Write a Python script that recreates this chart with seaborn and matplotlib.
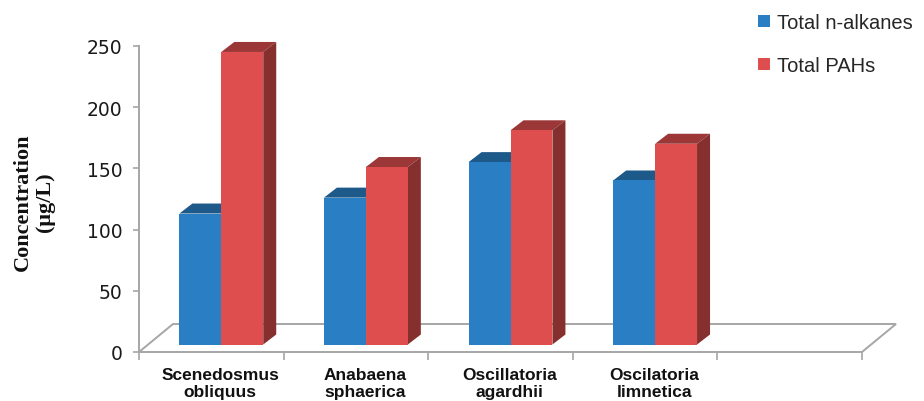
import numpy as np
import pandas as pd
import matplotlib
matplotlib.use("Agg")
import matplotlib.pyplot as plt
from matplotlib.patches import Polygon, Patch
from matplotlib.transforms import ScaledTranslation
import seaborn as sns

# ---- data -------------------------------------------------------------
species = ["Scenedosmus\nobliquus", "Anabaena\nsphaerica",
           "Oscillatoria\nagardhii", "Oscilatoria\nlimnetica"]
series = ["Total n-alkanes", "Total PAHs"]
alkanes = [107, 120, 149, 134]
pahs = [239, 145, 175, 164]
y_ticks = [0, 50, 100, 150, 200, 250]

df = pd.DataFrame({
    "species": species * 2,
    "series": [series[0]] * len(species) + [series[1]] * len(species),
    "conc": alkanes + pahs,
})

# ---- style ------------------------------------------------------------
sns.set_theme(style="white")
plt.rcParams["font.family"] = ["Liberation Sans", "DejaVu Sans"]

BLUE = "#2a7fc4"
RED = "#df4e4f"
GRID = "#a6a6a6"

W, H, DPI = 924, 402, 100
fig = plt.figure(figsize=(W / DPI, H / DPI), dpi=DPI)
ax_left, ax_right, ax_bottom, ax_top = 139, 862, 353, 47
ax = fig.add_axes([ax_left / W, (H - ax_bottom) / H,
                   (ax_right - ax_left) / W, (ax_bottom - ax_top) / H])

n_slots = 5  # four species plus one empty slot on the right
px_x = (ax_right - ax_left) / n_slots      # pixels per category
px_y = (ax_bottom - ax_top) / 250.0        # pixels per µg/L

sns.barplot(data=df, x="species", y="conc", hue="series",
            order=species, hue_order=series, palette=[BLUE, RED],
            width=0.58, saturation=1, legend=False, ax=ax)

ax.set_xlim(-0.5, n_slots - 0.5)
ax.set_ylim(0, 250)

# ---- 3-D floor --------------------------------------------------------
fdx, fdy = 34 / px_x, 28 / px_y
x_a, x_b = -0.5, n_slots - 0.5
floor = Polygon([(x_a, 0), (x_b, 0), (x_b + fdx, fdy), (x_a + fdx, fdy)],
                closed=True, facecolor="white", edgecolor=GRID, lw=1.4,
                zorder=1, clip_on=False)
ax.add_patch(floor)

# ---- 3-D bars: move columns to mid-depth and add top / side faces ------
shift = ScaledTranslation(10 / DPI, 7.5 / DPI, fig.dpi_scale_trans)
bar_tr = ax.transData + shift
ddx, ddy = 13 / px_x, 10 / px_y


def shade(color, k):
    r, g, b = matplotlib.colors.to_rgb(color)
    return (r * k, g * k, b * k)


bars = sorted([p for p in ax.patches if p is not floor], key=lambda p: p.get_x())
for i, p in enumerate(bars):
    x0, w, h = p.get_x(), p.get_width(), p.get_height()
    fc = p.get_facecolor()
    p.set_transform(bar_tr)
    p.set_edgecolor("none")
    p.set_clip_on(False)
    p.set_zorder(3 + 3 * i + 2)
    top = Polygon([(x0, h), (x0 + w, h), (x0 + w + ddx, h + ddy), (x0 + ddx, h + ddy)],
                  closed=True, facecolor=shade(fc, 0.7), edgecolor="none",
                  transform=bar_tr, zorder=3 + 3 * i, clip_on=False)
    side = Polygon([(x0 + w, 0), (x0 + w + ddx, ddy), (x0 + w + ddx, h + ddy), (x0 + w, h)],
                   closed=True, facecolor=shade(fc, 0.6), edgecolor="none",
                   transform=bar_tr, zorder=3 + 3 * i + 1, clip_on=False)
    ax.add_patch(top)
    ax.add_patch(side)

# ---- axes -------------------------------------------------------------
for s in ("top", "right", "bottom"):
    ax.spines[s].set_visible(False)
ax.spines["left"].set_color(GRID)
ax.spines["left"].set_linewidth(1.4)

ax.set_yticks(y_ticks)
ax.tick_params(axis="y", which="major", length=4, width=1.2, color=GRID,
               pad=8, labelsize=13.5, labelcolor="#1a1a1a", left=True)
for lab in ax.get_yticklabels():
    lab.set_fontfamily("DejaVu Sans")

ax.set_xticks(np.arange(len(species)) + 9 / px_x, labels=species)
ax.set_xticks(np.arange(-0.5, n_slots, 1.0), minor=True)
ax.tick_params(axis="x", which="major", length=0, pad=11, labelsize=12.5,
               labelcolor="#111111")
ax.tick_params(axis="x", which="minor", length=6, width=1.2, color=GRID,
               bottom=True, direction="out")
for lab in ax.get_xticklabels():
    lab.set_fontweight("bold")
    lab.set_linespacing(1.12)

ax.set_xlabel("")
ax.set_ylabel("")
fig.text(34 / W, 1 - 202 / H, "Concentration\n(μg/L)", rotation=90,
         ha="center", va="center", multialignment="center",
         family="Liberation Serif", fontweight="bold", fontsize=16,
         linespacing=1.1, color="#111111")

handles = [Patch(facecolor=BLUE, edgecolor="none"),
           Patch(facecolor=RED, edgecolor="none")]
fig.legend(handles, series, loc="upper left",
           bbox_to_anchor=(758 / W, 1 - 14 / H), frameon=False,
           fontsize=14.5, handlelength=0.58, handleheight=0.58,
           handletextpad=0.35, labelspacing=1.2, borderpad=0,
           borderaxespad=0)

fig.savefig("out.png", dpi=DPI)
